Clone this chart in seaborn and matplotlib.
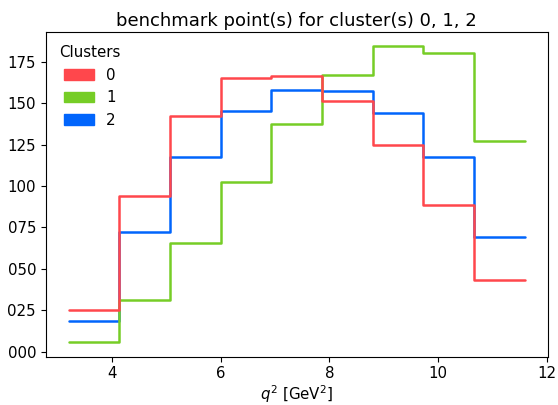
import matplotlib
matplotlib.use("Agg")
import matplotlib.pyplot as plt
from matplotlib.patches import Patch
from matplotlib.ticker import FormatStrFormatter
import numpy as np
import pandas as pd
import seaborn as sns

# q^2 binning shared by all clusters
bin_edges = [3.2, 4.133, 5.067, 6.0, 6.933, 7.867, 8.8, 9.733, 10.667, 11.6]

# benchmark-point distributions per cluster
cluster_labels = ["0", "1", "2"]
heights_0 = [25.3, 93.8, 142.5, 165.0, 166.2, 151.3, 124.5, 88.4, 43.3]
heights_1 = [5.8, 31.1, 65.4, 102.2, 137.5, 166.8, 184.2, 180.4, 127.1]
heights_2 = [18.6, 72.4, 117.5, 145.3, 158.0, 157.2, 144.3, 117.7, 69.3]
cluster_colors = ["xkcd:light red", "xkcd:apple green", "xkcd:bright blue"]

x_ticks = [4, 6, 8, 10, 12]
y_ticks = [0, 25, 50, 75, 100, 125, 150, 175]

sns.set_style("ticks", rc={
    "axes.edgecolor": "black",
    "text.color": "black",
    "axes.labelcolor": "black",
    "xtick.color": "black",
    "ytick.color": "black",
})
plt.rcParams["font.family"] = ["DejaVu Sans"]

edges = np.array(bin_edges)
centers = 0.5 * (edges[:-1] + edges[1:])
frames = []
for lab, h in zip(cluster_labels, [heights_0, heights_1, heights_2]):
    frames.append(pd.DataFrame({"q2": centers, "w": h, "cluster": lab}))
df = pd.concat(frames, ignore_index=True)

fig, ax = plt.subplots(figsize=(5.58, 4.05), dpi=100)
fig.subplots_adjust(left=0.082, right=0.9815, top=0.9217, bottom=0.1193)

sns.histplot(data=df, x="q2", weights="w", hue="cluster", bins=list(bin_edges),
             element="step", fill=False, palette=cluster_colors,
             hue_order=cluster_labels, linewidth=1.8, legend=False, ax=ax)

# let the y range follow the step outlines rather than pinning at zero
for line in ax.lines:
    line.sticky_edges.y.clear()
ax.relim()
ax.autoscale_view()

ax.set_xticks(x_ticks)
ax.set_yticks(y_ticks)
ax.yaxis.set_major_formatter(FormatStrFormatter("%03d"))
ax.set_xlabel(r"$q^2$ [GeV$^2$]", fontsize=10.8, labelpad=1.2)
ax.set_ylabel("")
ax.set_title("benchmark point(s) for cluster(s) 0, 1, 2", fontsize=13, pad=4)
ax.tick_params(labelsize=10.8)

handles = [Patch(color=c, label=l) for c, l in zip(cluster_colors, cluster_labels)]
ax.legend(handles=handles, title="Clusters", frameon=False, loc="upper left",
          fontsize=10.8, title_fontsize=10.8)

fig.savefig("out.png", dpi=100)
